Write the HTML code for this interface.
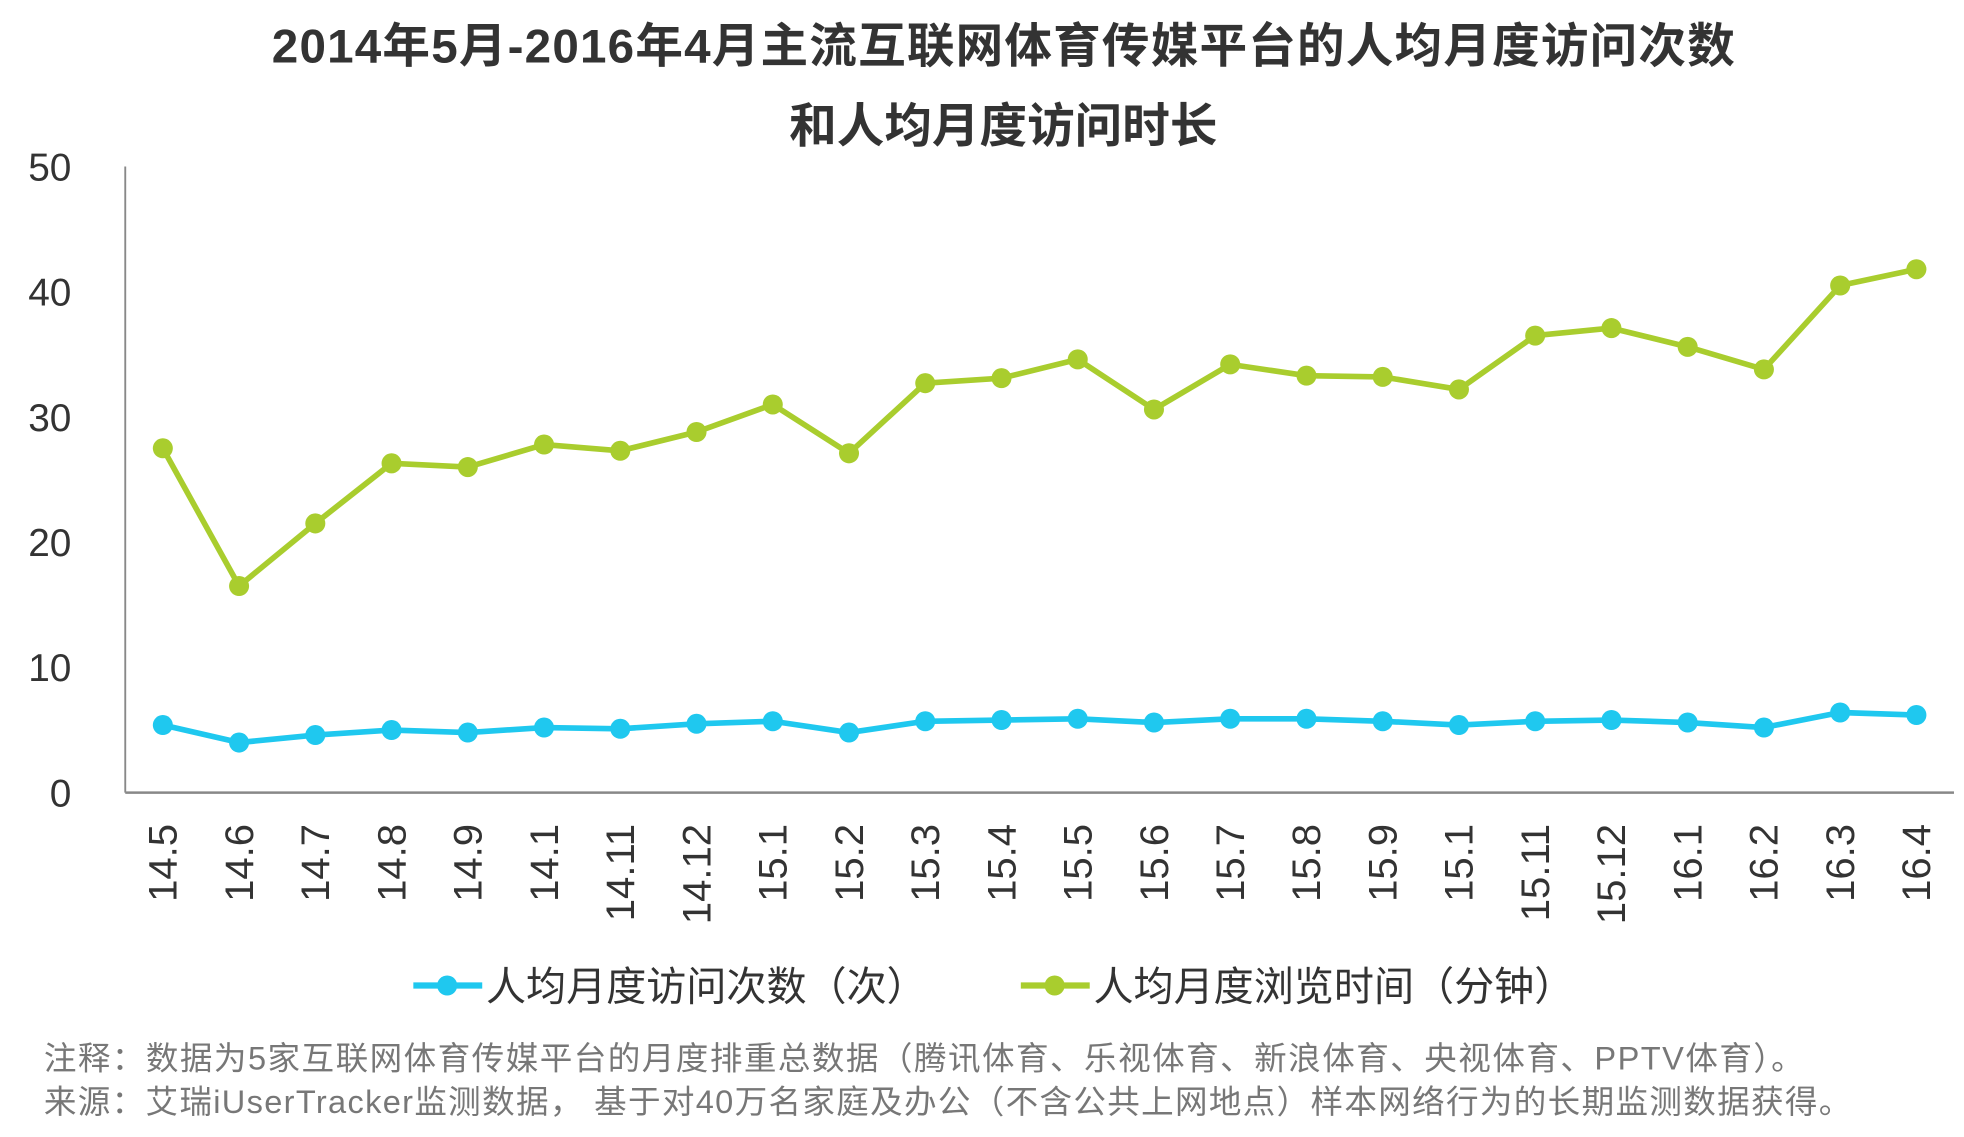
<!DOCTYPE html>
<html><head><meta charset="utf-8"><style>
html,body{margin:0;padding:0;background:#fff;}
svg{display:block;font-family:"Liberation Sans","Noto Sans CJK SC",sans-serif;}
</style></head><body>
<svg width="1964" height="1137" viewBox="0 0 1568 908" preserveAspectRatio="none">
<text x="801" y="50" text-anchor="middle" font-size="38" font-weight="bold" fill="#333" textLength="1168">2014年5月-2016年4月主流互联网体育传媒平台的人均月度访问次数</text>
<text x="801" y="114" text-anchor="middle" font-size="38" font-weight="bold" fill="#333">和人均月度访问时长</text>
<g id="axes"></g>
<g id="marks"></g>
<g>
<g>
<line x1="330" y1="787" x2="385" y2="787" stroke="#1fc8ef" stroke-width="5"/><circle cx="357" cy="787" r="8" fill="#1fc8ef"/>
<text x="388" y="799" font-size="32" fill="#333">人均月度访问次数（次）</text></g>
<g>
<line x1="815" y1="787" x2="870" y2="787" stroke="#a9cd2e" stroke-width="5"/><circle cx="842" cy="787" r="8" fill="#a9cd2e"/>
<text x="873" y="799" font-size="32" fill="#333">人均月度浏览时间（分钟）</text></g>
</g>
<text x="35" y="854" font-size="26" fill="#777" textLength="1405">注释：数据为5家互联网体育传媒平台的月度排重总数据（腾讯体育、乐视体育、新浪体育、央视体育、PPTV体育）。</text>
<text x="35" y="889" font-size="26" fill="#777" textLength="1443">来源：艾瑞iUserTracker监测数据， 基于对40万名家庭及办公（不含公共上网地点）样本网络行为的长期监测数据获得。</text>
</svg>
<script>
const categories=["14.5","14.6","14.7","14.8","14.9","14.1","14.11","14.12","15.1","15.2","15.3","15.4","15.5","15.6","15.7","15.8","15.9","15.1","15.11","15.12","16.1","16.2","16.3","16.4"];
const visits=[5.4,4,4.6,5,4.8,5.2,5.1,5.5,5.7,4.8,5.7,5.8,5.9,5.6,5.9,5.9,5.7,5.4,5.7,5.8,5.6,5.2,6.4,6.2];
const duration=[27.5,16.5,21.5,26.3,26,27.8,27.3,28.8,31,27.1,32.7,33.1,34.6,30.6,34.2,33.3,33.2,32.2,36.5,37.1,35.6,33.8,40.5,41.8];
const yTicks=[0,10,20,30,40,50];
const NS="http://www.w3.org/2000/svg";
const x=i=>130+i*(1400/(categories.length-1));
const y=v=>633-v*10;
const axes=document.getElementById('axes'),marks=document.getElementById('marks');
function mk(tag,attrs,parent){const e=document.createElementNS(NS,tag);for(const k in attrs)e.setAttribute(k,attrs[k]);parent.appendChild(e);return e;}
let a=mk('line',{x1:100,y1:133,x2:100,y2:633,stroke:'#888','stroke-width':1.5},axes);


a=mk('line',{x1:100,y1:633,x2:1560,y2:633,stroke:'#888','stroke-width':2},axes);


yTicks.forEach(t=>{const e=mk('text',{x:57,y:y(t)+11,'text-anchor':'end','font-size':31,fill:'#333'},axes);e.textContent=t;

});
categories.forEach((c,i)=>{const e=mk('text',{x:0,y:0,'text-anchor':'end','font-size':32,fill:'#333',transform:`translate(${x(i)+11},658) rotate(-90)`},axes);e.textContent=c;

});
function series(vals,color,name){
const p=mk('polyline',{points:vals.map((v,i)=>x(i)+','+y(v)).join(' '),fill:'none',stroke:color,'stroke-width':4.5,'stroke-linejoin':'round'},marks);


vals.forEach((v,i)=>{const c=mk('circle',{cx:x(i),cy:y(v),r:8,fill:color},marks);

});
}
series(duration,'#a9cd2e','duration');
series(visits,'#1fc8ef','visits');
</script>
</body></html>
